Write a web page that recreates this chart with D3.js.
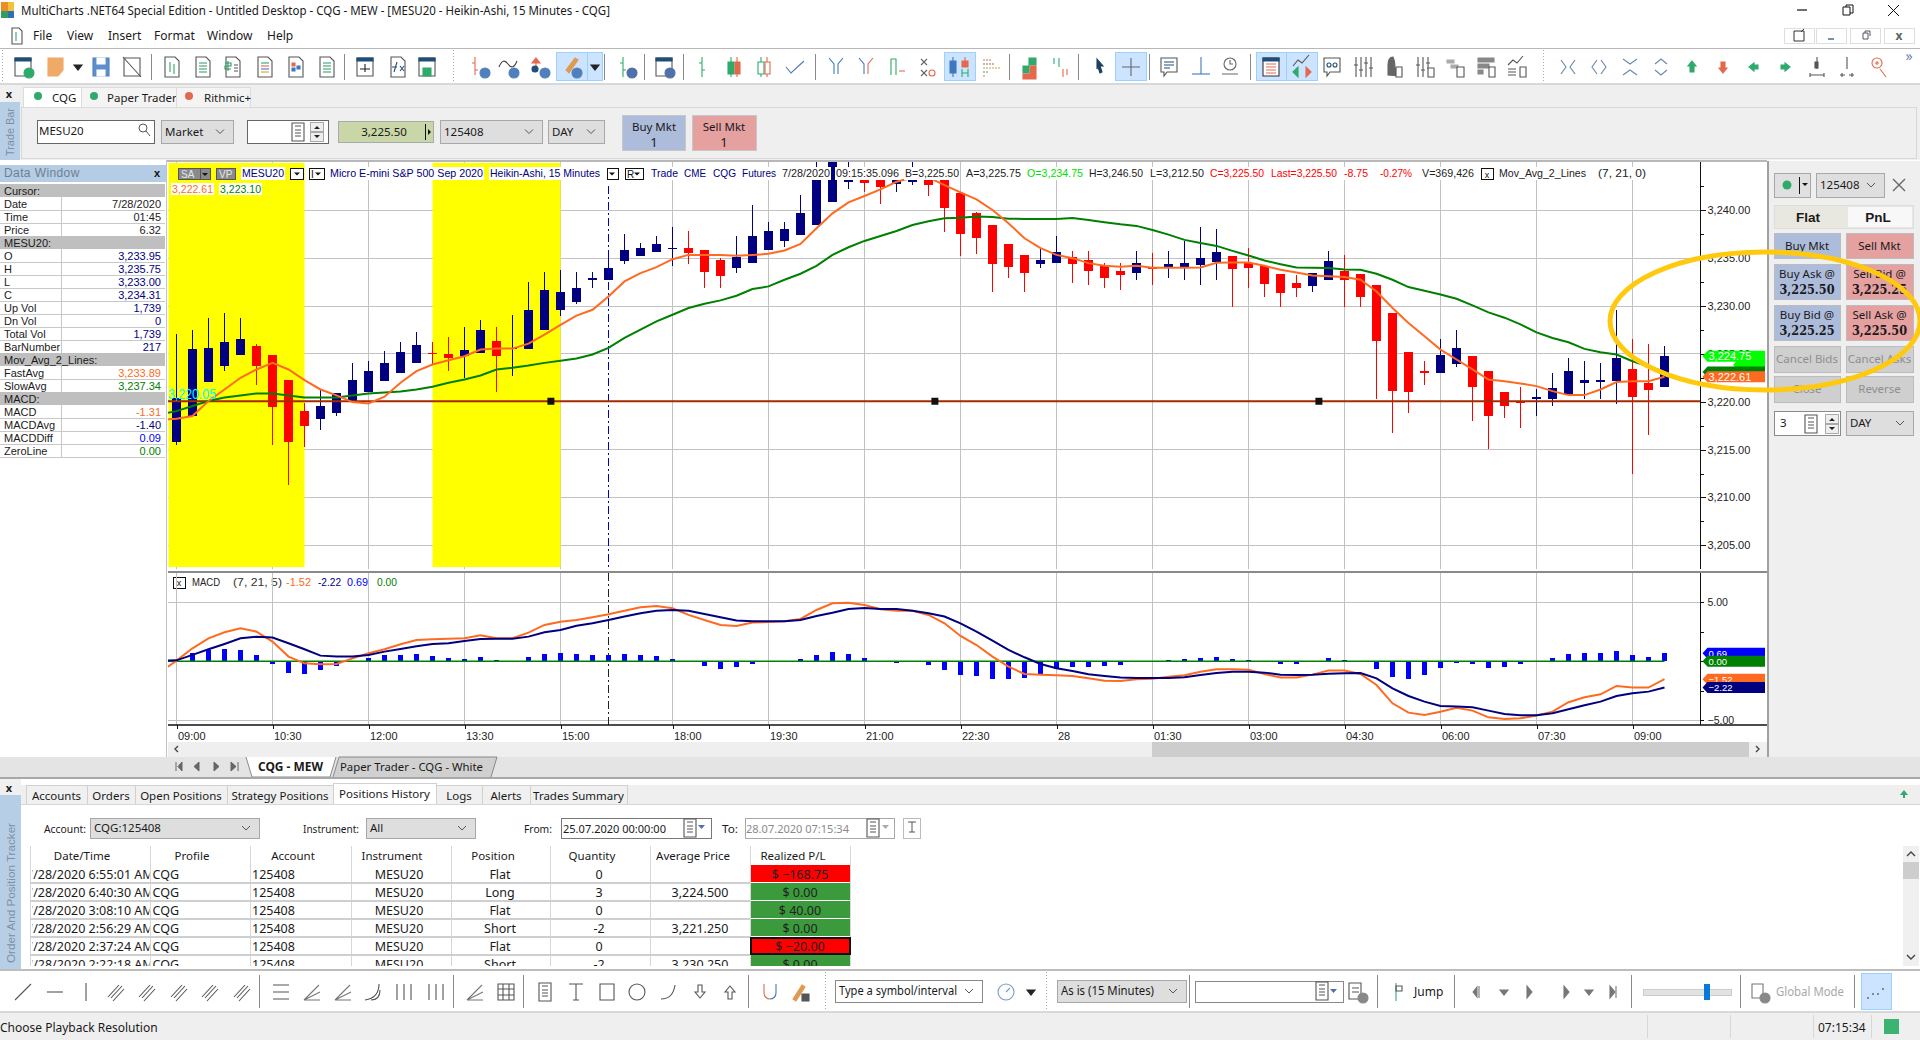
<!DOCTYPE html>
<html>
<head>
<meta charset="utf-8">
<title>MultiCharts MESU20</title>
<script src="https://cdn.jsdelivr.net/npm/d3@7"></script>
<style>
  html, body { margin: 0; padding: 0; background: #fff; overflow: hidden; }
  svg { display: block; font-family: "Noto Sans", sans-serif; font-size: 12px; }
  .chartText { font-family: "Liberation Sans", sans-serif; font-size: 11px; }
</style>
</head>
<body>
<svg id="app" width="1920" height="1040"></svg>
<script>
// Heikin-Ashi bars, one entry per 15 minute bar
const barOpen = [3215.80,3218.50,3222.01,3223.78,3224.93,3225.87,3224.93,3222.22,3218.99,3218.16,3218.78,3219.93,3220.97,3222.12,3223.05,3224.09,3225.14,3225.03,3224.82,3225.14,3226.39,3225.52,3225.55,3227.53,3229.61,3230.45,3232.77,3232.74,3234.72,3235.24,3235.66,3235.97,3236.07,3235.87,3234.82,3233.99,3234.51,3235.87,3236.80,3237.43,3238.47,3240.86,3242.98,3243.16,3243.16,3242.74,3243.05,3243.16,3243.16,3241.80,3239.72,3238.47,3236.49,3235.34,3234.41,3234.51,3235.14,3234.82,3234.20,3233.68,3233.47,3234.10,3233.99,3233.99,3234.30,3234.61,3235.24,3234.51,3234.20,3233.37,3232.43,3232.12,3232.74,3233.68,3233.37,3232.22,3229.30,3225.24,3223.16,3222.95,3223.89,3224.82,3223.26,3220.97,3220.03,3220.24,3220.24,3220.76,3221.91,3222.01,3222.12,3223.37,3221.91,3221.49]
const barHigh = [3227.11,3227.53,3228.78,3229.30,3228.78,3226.07,3224.93,3222.22,3219.82,3221.28,3220.87,3224.09,3224.30,3225.34,3226.28,3227.32,3226.28,3226.80,3227.84,3228.57,3227.84,3229.09,3232.53,3233.57,3233.78,3233.57,3233.57,3235.03,3237.53,3236.59,3237.32,3238.26,3237.84,3235.87,3235.03,3237.32,3240.55,3238.78,3238.78,3241.59,3245.80,3246.50,3245.20,3243.68,3243.68,3243.68,3245.20,3243.50,3243.16,3241.80,3239.82,3238.47,3236.49,3235.34,3235.97,3237.32,3235.76,3235.76,3234.51,3234.51,3235.76,3235.55,3235.76,3236.80,3238.26,3238.05,3235.24,3236.07,3234.20,3233.37,3233.26,3233.47,3235.76,3235.34,3233.37,3232.22,3229.30,3225.24,3224.30,3226.59,3227.53,3224.82,3223.26,3220.97,3221.59,3221.28,3223.05,3224.61,3224.30,3224.09,3229.61,3226.59,3226.07,3225.87]
const barLow = [3215.45,3218.43,3222.01,3223.26,3224.93,3221.70,3215.45,3211.28,3215.24,3217.01,3218.47,3219.82,3220.97,3222.12,3223.05,3224.09,3223.89,3223.26,3222.43,3225.14,3220.97,3222.74,3225.55,3227.53,3228.99,3230.24,3231.91,3232.74,3234.41,3235.24,3235.66,3234.20,3234.41,3231.91,3231.91,3233.47,3234.51,3235.87,3236.18,3237.43,3238.47,3240.86,3242.22,3241.91,3240.66,3241.91,3242.64,3241.49,3237.74,3235.24,3235.45,3231.49,3232.95,3231.49,3233.99,3234.51,3232.43,3232.22,3231.91,3231.70,3232.74,3232.22,3232.95,3232.74,3232.22,3232.74,3229.93,3231.91,3230.97,3229.93,3230.97,3231.49,3232.74,3229.93,3229.93,3220.24,3216.70,3218.78,3221.70,3222.95,3223.68,3217.95,3215.03,3218.26,3217.22,3218.47,3219.51,3220.76,3220.24,3220.24,3219.72,3212.50,3216.49,3221.49]
const barClose = [3220.41,3225.55,3225.66,3226.28,3226.59,3223.78,3219.41,3215.76,3217.43,3219.51,3220.87,3222.32,3223.26,3224.09,3225.24,3225.97,3224.96,3224.61,3225.45,3227.53,3224.82,3225.62,3229.61,3231.70,3231.49,3231.91,3232.95,3233.99,3235.87,3236.07,3236.49,3236.07,3235.55,3233.57,3233.16,3235.14,3237.32,3237.84,3238.05,3239.72,3243.16,3245.60,3243.16,3242.84,3242.43,3243.16,3243.16,3242.64,3240.24,3237.53,3237.12,3234.41,3234.10,3233.47,3234.82,3235.66,3234.41,3233.68,3232.95,3233.26,3234.51,3233.89,3234.41,3234.51,3235.03,3235.66,3233.89,3233.99,3232.32,3231.39,3231.91,3233.47,3234.72,3232.74,3230.97,3226.39,3221.07,3220.97,3223.02,3224.93,3225.66,3221.59,3218.47,3219.51,3219.82,3220.45,3221.39,3223.16,3222.32,3222.22,3224.61,3220.45,3221.18,3224.82]

// moving averages and MACD start one bar left of the window, hence the first extra value
const fastAvg = [3218.10,3218.23,3218.50,3220.07,3221.28,3222.50,3223.37,3224.06,3223.37,3222.25,3221.28,3220.66,3219.96,3219.82,3220.52,3221.98,3223.19,3223.89,3224.34,3224.75,3225.45,3225.55,3225.55,3226.07,3227.01,3228.02,3228.99,3229.61,3231.00,3232.57,3233.43,3234.06,3234.89,3235.34,3235.34,3235.34,3235.24,3235.34,3235.45,3235.80,3236.49,3238.12,3239.68,3240.83,3241.49,3242.18,3242.98,3243.43,3243.43,3242.64,3241.87,3241.14,3240.03,3238.64,3237.08,3236.04,3235.34,3235.00,3234.48,3234.20,3234.09,3234.20,3233.99,3233.99,3233.99,3234.02,3234.51,3234.55,3234.55,3234.20,3233.78,3233.50,3233.19,3233.12,3233.02,3232.74,3231.52,3229.79,3228.23,3226.84,3225.45,3224.41,3223.37,3222.32,3222.15,3221.91,3221.63,3221.11,3220.69,3220.69,3221.28,3222.05,3222.15,3222.15,3222.61]
const slowAvg = [3218.70,3219.02,3219.55,3220.07,3220.45,3220.66,3220.87,3220.87,3220.66,3220.45,3220.45,3220.45,3220.66,3220.87,3220.97,3221.07,3221.28,3221.56,3221.98,3222.32,3222.74,3223.37,3223.54,3223.78,3224.06,3224.27,3224.51,3224.93,3225.62,3226.66,3227.53,3228.40,3229.09,3229.79,3230.24,3230.59,3231.07,3231.77,3232.05,3232.74,3233.37,3234.20,3235.34,3236.14,3236.80,3237.32,3237.84,3238.47,3238.85,3239.16,3239.23,3239.34,3239.30,3239.13,3239.09,3239.09,3239.09,3239.20,3238.99,3238.75,3238.54,3238.37,3237.95,3237.46,3236.91,3236.59,3236.28,3235.76,3235.27,3234.75,3234.37,3234.02,3233.99,3233.96,3233.82,3233.78,3233.37,3232.74,3231.98,3231.59,3231.21,3230.76,3230.07,3229.34,3228.78,3228.09,3227.25,3226.66,3226.21,3225.52,3225.17,3224.93,3224.23,3223.71,3223.10]
const macdLine = [-0.90,0.06,1.10,1.95,2.46,2.80,2.51,1.67,0.40,-0.17,-0.25,-0.23,0.25,0.68,1.02,1.44,1.81,1.86,1.92,1.95,2.20,1.95,1.95,2.43,3.08,3.36,3.50,3.73,3.98,4.29,4.58,4.69,4.49,3.93,3.50,3.08,2.99,3.28,3.33,3.39,3.59,4.35,4.92,4.97,4.77,4.41,4.29,4.29,3.93,3.22,2.15,1.38,0.40,-0.45,-1.07,-1.13,-1.19,-1.24,-1.44,-1.64,-1.67,-1.53,-1.47,-1.30,-1.19,-0.88,-0.68,-0.68,-0.71,-1.07,-1.38,-1.38,-1.13,-0.79,-0.79,-1.07,-2.01,-3.56,-4.35,-4.55,-4.27,-3.93,-4.18,-4.75,-4.89,-4.83,-4.60,-4.27,-3.47,-3.05,-2.80,-2.09,-2.23,-2.23,-1.52]
const macdAvg = [0.05,0.08,0.54,1.02,1.47,1.95,2.09,2.01,1.53,1.02,0.48,0.40,0.40,0.54,0.82,1.05,1.27,1.47,1.53,1.72,1.89,1.92,1.92,2.09,2.46,2.66,3.02,3.22,3.50,3.79,4.07,4.29,4.35,4.29,4.01,3.73,3.45,3.39,3.39,3.39,3.50,3.84,4.12,4.44,4.52,4.44,4.44,4.29,4.07,3.79,3.22,2.51,1.75,0.96,0.34,-0.23,-0.59,-0.82,-1.10,-1.24,-1.38,-1.41,-1.41,-1.41,-1.36,-1.16,-0.99,-0.88,-0.88,-0.96,-1.13,-1.16,-1.13,-1.05,-1.02,-0.99,-1.44,-2.29,-2.94,-3.42,-3.79,-3.84,-3.90,-4.18,-4.46,-4.58,-4.58,-4.41,-4.07,-3.73,-3.42,-2.94,-2.71,-2.57,-2.22]
const macdDiff = [0.00,0.68,0.96,1.05,0.96,0.54,-0.23,-0.99,-1.07,-0.73,-0.40,0.06,0.31,0.54,0.54,0.62,0.45,0.28,0.20,0.37,0.11,0.00,0.37,0.62,0.71,0.62,0.54,0.54,0.62,0.54,0.45,0.20,0.00,-0.40,-0.65,-0.48,-0.23,0.00,0.00,0.20,0.54,0.79,0.62,0.28,0.00,-0.11,-0.08,-0.31,-0.73,-1.16,-1.24,-1.50,-1.50,-1.41,-1.07,-0.65,-0.48,-0.48,-0.40,-0.31,0.00,0.00,0.11,0.20,0.28,0.37,0.20,0.11,0.00,-0.23,-0.23,0.00,0.28,0.11,0.00,-0.65,-1.33,-1.50,-1.16,-0.56,-0.11,-0.23,-0.56,-0.48,-0.23,0.00,0.28,0.62,0.71,0.71,0.88,0.54,0.37,0.69]

const timeTickBars = [0,6,12,18,24,31,37,43,49,55,61,67,73,79,85,91]
const timeTickLabels = ["09:00","10:30","12:00","13:30","15:00","18:00","19:30","21:00","22:30","28","01:30","03:00","04:30","06:00","07:30","09:00"]
const priceTicks = d3.range(3205, 3242.6, 2.5)
const macdTicks = [-5,-2.5,0,2.5,5]
const priceGridTicks = [3205,3210,3215,3220,3225,3230,3235,3240]
const macdGridTicks = [-5,5]
const shadedBarRanges = [[-0.5,8],[16,24]]
const sessionBreakBar = 27
const trendLevel = 3220.05
const trendAnchorBars = [23.4,47.4,71.4]

const dataWindowRows = [
  ["Cursor:"],["Date","7/28/2020","#222"],["Time","01:45","#222"],["Price","6.32","#222"],
  ["MESU20:"],["O","3,233.95","#000080"],["H","3,235.75","#000080"],["L","3,233.00","#000080"],["C","3,234.31","#000080"],
  ["Up Vol","1,739","#000080"],["Dn Vol","0","#000080"],["Total Vol","1,739","#000080"],["BarNumber","217","#000080"],
  ["Mov_Avg_2_Lines:"],["FastAvg","3,233.89","#ff6a21"],["SlowAvg","3,237.34","#008000"],
  ["MACD:"],["MACD","-1.31","#ff6a21"],["MACDAvg","-1.40","#000080"],["MACDDiff","0.09","#0000ff"],["ZeroLine","0.00","#008000"]
]
const historyHeaders = ["Date/Time","Profile","Account","Instrument","Position","Quantity","Average Price","Realized P/L"]
const historyTimes = ["7/28/2020 6:55:01 AM","7/28/2020 6:40:30 AM","7/28/2020 3:08:10 AM","7/28/2020 2:56:29 AM","7/28/2020 2:37:24 AM","7/28/2020 2:22:18 AM"]
const historyPositions = ["Flat","Long","Flat","Short","Flat","Short"]
const historyQuantities = ["0","3","0","-2","0","-2"]
const historyPrices = ["","3,224.500","","3,221.250","","3,230.250"]
const historyPnl = [-168.75,0,40,0,-20,0]

const CANDLE_UP = "#000080"
const CANDLE_DOWN = "#ff0000"
const FAST_COLOR = "#ff6a21"
const SLOW_COLOR = "#008000"
const GRID_COLOR = "#c2c2c2"
const PANEL_BG = "#efefef"

const svg = d3.select("#app")
svg.append("rect").attr("width", 1920).attr("height", 1040).attr("fill", "#fff")

const defs = svg.append("defs")
const addClip = (id, x, y, w, h) => defs.append("clipPath").attr("id", id)
  .append("rect").attr("x", x).attr("y", y).attr("width", w).attr("height", h)

// ---- small drawing helpers for the application chrome
function txt (parent, x, y, text, opts = {}) {
  const t = parent.append("text")
    .attr("x", x).attr("y", y)
    .attr("fill", opts.fill || "#1a1a1a")
    .attr("text-anchor", opts.anchor || "start")
    .attr("font-size", opts.size || 12)
    .attr("font-weight", opts.weight || "normal")
    .text(text)
  if (opts.family) { t.attr("font-family", opts.family) }
  if (opts.length) { t.attr("textLength", opts.length).attr("lengthAdjust", "spacingAndGlyphs") }
  if (opts.spacing) { t.attr("letter-spacing", opts.spacing) }
  return t
}

function box (parent, x, y, w, h, fill, stroke) {
  return parent.append("rect")
    .attr("x", x).attr("y", y).attr("width", w).attr("height", h)
    .attr("fill", fill || "none")
    .attr("stroke", stroke || "none")
    .attr("shape-rendering", "crispEdges")
}

function vline (parent, x, y1, y2, color = "#8a8a8a", dash) {
  const l = parent.append("line").attr("x1", x).attr("x2", x).attr("y1", y1).attr("y2", y2)
    .attr("stroke", color).attr("shape-rendering", "crispEdges")
  if (dash) { l.attr("stroke-dasharray", dash) }
  return l
}

function hline (parent, x1, x2, y, color = "#c8c8c8", width = 1) {
  return parent.append("line").attr("x1", x1).attr("x2", x2).attr("y1", y).attr("y2", y)
    .attr("stroke", color).attr("stroke-width", width).attr("shape-rendering", "crispEdges")
}

function chevron (parent, x, y, color = "#555") {
  parent.append("path").attr("d", `M${x - 4},${y - 2}L${x},${y + 2}L${x + 4},${y - 2}`)
    .attr("fill", "none").attr("stroke", color)
}

function combo (parent, x, y, w, h, text, opts = {}) {
  box(parent, x + 0.5, y + 0.5, w, h, opts.fill || "#dedede", opts.stroke || "#a8a8a8")
  txt(parent, x + 4, y + h / 2 + 4, text, {size: opts.size || 12, length: opts.length})
  chevron(parent, x + w - 13, y + h / 2)
}

// toolbar glyphs: each is a list of [path, stroke, fill]
const PAGE = "M-7,-10h10l4,4v16h-14z"
const WIN = "M-8,-9h16v18h-16z"
const PLUS_DOT = "M1,6a5,5 0 1,0 10,0a5,5 0 1,0 -10,0z"
const glyphs = {
  winPlus: [[WIN, "#555", "#fff"], ["M-8,-9h16v3h-16z", "#1f4e79", "#1f4e79"], [PLUS_DOT, "#2eaa6b", "#2eaa6b"]],
  flag: [["M-8,-9h15v12l-5,6h-10z", "#eeaa66", "#eeaa66"]],
  drop: [["M-4,-2h8l-4,5z", "#222", "#222"]],
  save: [["M-8,-9h16v18h-16z", "#4f80bd", "#5f8fca"], ["M-4,-9h8v6h-8zM-4,3h8v6h-8z", "#fff", "#fff"]],
  noPage: [[WIN, "#555", "#fff"], ["M-9,-10L9,10", "#555", "none"]],
  pageBar: [[PAGE, "#555", "#fff"], ["M-2,-5v10M2,-3v10", "#2eaa6b", "none"]],
  pageGrid: [[PAGE, "#555", "#fff"], ["M-4,-4h8M-4,-1h8M-4,2h8M-4,5h8", "#2a9a60", "none"]],
  pageDollar: [[PAGE, "#555", "#fff"], ["M-8,-4h6v3h-6v3h6M-5,-6v10", "#2a9a60", "none"], ["M1,-2h4M1,1h4M1,4h4", "#555", "none"]],
  pageList: [[PAGE, "#555", "#fff"], ["M-4,-4h8", "#2eaa6b", "none"], ["M-4,-1h8", "#e4694c", "none"], ["M-4,2h8", "#3f78c0", "none"], ["M-4,5h8", "#e0a030", "none"]],
  pageColor: [[PAGE, "#555", "#fff"], ["M-4,-4h3v3h-3z", "#e4694c", "#e4694c"], ["M1,-1h3v3h-3z", "#3f78c0", "#3f78c0"], ["M-4,1h3v3h-3z", "#3f78c0", "#3f78c0"]],
  winLine: [[WIN, "#555", "#fff"], ["M-8,-9h16v3h-16z", "#1f4e79", "#1f4e79"], ["M-5,2h10M0,-3v8", "#222", "none"]],
  pageFx: [[PAGE, "#555", "#fff"], ["M-4,5l3,-10M-6,0h5M2,-1l4,5M6,-1l-4,5", "#1f4e79", "none"]],
  winPuzzle: [[WIN, "#555", "#fff"], ["M-8,-9h16v3h-16z", "#1f4e79", "#1f4e79"], ["M-4,1h8v8h-8z", "#2eaa6b", "#2eaa6b"]],
  barPlus: [["M-4,-10v18M-7,-4h3M-4,3h3", "#e4694c", "none"], [PLUS_DOT, "#4f80bd", "#4f80bd"]],
  wavePlus: [["M-9,0q4,-10 9,-3t9,-3", "#444", "none"], [PLUS_DOT, "#4f80bd", "#4f80bd"]],
  arrowPlus: [["M-3,-9l4,5h-8zM-3,-4v8", "#e4694c", "#e4694c"], ["M-7,2a3,3 0 1,0 6,0a3,3 0 1,0 -6,0z", "#1f4e79", "#1f4e79"], [PLUS_DOT, "#4f80bd", "#4f80bd"]],
  pencilPlus: [["M-5,3L4,-9l3,2L-2,6z", "#e09a50", "#e09a50"], [PLUS_DOT, "#4f80bd", "#4f80bd"]],
  barGear: [["M-3,-10v20M-6,-4h3M-3,3h3", "#2eaa6b", "none"], [PLUS_DOT, "#4f70a8", "#4f70a8"]],
  winGear: [[WIN, "#555", "#fff"], ["M-8,-9h16v3h-16z", "#1f4e79", "#1f4e79"], [PLUS_DOT, "#4f70a8", "#4f70a8"]],
  barsG: [["M0,-10v20M-3,-4h3M0,3h3", "#2eaa6b", "none"]],
  candle: [["M-3,-10v20", "#2eaa6b", "none"], ["M-6,-5h6v12h-6z", "#2eaa6b", "#2eaa6b"], ["M3,-10v20", "#e4694c", "none"], ["M1,-5h5v12h-5z", "#e4694c", "#e4694c"]],
  hollow: [["M-3,-10v20", "#2eaa6b", "none"], ["M-6,-5h6v12h-6z", "#2eaa6b", "#fff"], ["M3,-10v20", "#e4694c", "none"], ["M1,-5h5v12h-5z", "#e4694c", "#fff"]],
  check: [["M-9,0l5,6l13,-12", "#4f78a8", "none"]],
  lineV: [["M-7,-9l5,6v10M7,-9l-5,6v10", "#3f78c0", "none"]],
  lineVr: [["M-7,-9l5,6v10", "#3f78c0", "none"], ["M7,-9l-5,6v10", "#e4694c", "none"]],
  step: [["M-6,8v-16h5v16", "#2eaa6b", "none"], ["M2,4h6", "#e4694c", "none"]],
  xo: [["M-7,-8l6,6M-1,-8l-6,6", "#666", "none"], ["M1,6a3,3 0 1,0 6,0a3,3 0 1,0 -6,0z", "#e4694c", "none"], ["M-7,3l6,6M-1,3l-6,6", "#666", "none"]],
  candleBlue: [["M0,-10v20M-3,-6h6v12h-6z", "#3f78c0", "#3f78c0"]],
  candleHL: [["M0,-10v9", "#e4694c", "none"], ["M-3,-6h6v6h-6z", "#e4694c", "#e4694c"], ["M-3,2v8M3,2v8M-3,6h6", "#2eaa6b", "none"]],
  dots: [["M-8,-7h2M-5,-7h2M-2,-7h2", "#e4694c", "none"], ["M-8,-3h2M-5,-3h2M-2,-3h2M1,-3h2", "#777", "none"], ["M-8,1h2M-5,1h2M-2,1h2M1,1h2M4,1h2M7,1h2", "#e0a030", "none"], ["M-8,5h2M-5,5h2", "#2eaa6b", "none"], ["M-8,9h2", "#e4694c", "none"]],
  blocks: [["M0,-9h7v7h-7zM-6,-1h6v7h-6z", "#2eaa6b", "#2eaa6b"], ["M1,-1h6v7h-6zM-6,7h6v5h-6zM1,7h6v5h-6z", "#e4694c", "#e4694c"]],
  upDown: [["M-5,-3v-6M0,0v-9", "#2eaa6b", "none"], ["M4,2v8M8,2v6", "#e4694c", "none"]],
  pointer: [["M-3,-8l6,7h-3l2,6l-2,1l-2,-6l-1,2z", "#1f3f60", "#1f3f60"]],
  cross: [["M-9,0h18M0,-9v18", "#666", "none"]],
  note: [["M-8,-9h16v14h-10l-3,4v-4h-3z", "#555", "#fff"], ["M-5,-5h10M-5,-2h10M-5,1h6", "#1f4e79", "none"]],
  hCursor: [["M-9,7h18", "#3f78c0", "none"], ["M0,-10v17", "#3f78c0", "none"]],
  clock: [["M-6,-3a6,6 0 1,0 12,0a6,6 0 1,0 -12,0zM0,-7v4h3M-8,7h16", "#666", "none"]],
  listWin: [[WIN, "#333", "#fff"], ["M-8,-9h16v3h-16z", "#1f4e79", "#1f4e79"], ["M-5,-3h10M-5,0h10M-5,3h10M-5,6h10", "#e4694c", "none"]],
  tradeArrows: [["M-9,-1l5,-6l4,3l7,-8", "#555", "none"], ["M-9,5l5,-5v10z", "#2eaa6b", "#2eaa6b"], ["M9,5l-5,-5v10z", "#e4694c", "#e4694c"]],
  chain: [["M-8,-9h16v14h-10l-3,4v-4h-3z", "#555", "#fff"], ["M-5,-2a2,2 0 1,0 4,0a2,2 0 1,0 -4,0zM1,-2a2,2 0 1,0 4,0a2,2 0 1,0 -4,0z", "#1f4e79", "none"]],
  ticks: [["M-7,-10v20M-2,-10v20M3,-10v20M8,-10v20M-9,-2h4M-4,3h4M1,-4h4M6,1h4", "#555", "none"]],
  horse: [["M-5,8v-10q0,-8 5,-8q2,4 2,12l5,-1v8z", "#666", "#666"], ["M3,0h6v10h-6z", "#555", "#fff"]],
  tickDoc: [["M-7,-10v20M-2,-10v20M3,-10v12M-9,-2h4M-4,3h4M1,-4h4", "#555", "none"], ["M3,1h6v9h-6z", "#555", "#fff"]],
  greyDoc: [["M-9,-7h7v3h-7zM-5,-2h7v3h-7z", "#aaa", "#aaa"], ["M1,0h7v10h-7z", "#555", "#fff"]],
  gridDoc: [["M-8,-9h5v4h-5zM-2,-9h5v4h-5zM4,-9h4v4h-4zM-8,-3h5v4h-5zM-2,-3h5v4h-5zM-8,3h5v4h-5z", "#888", "#888"], ["M3,0h6v10h-6z", "#555", "#fff"]],
  lineDoc: [["M-9,-2l5,-5l4,3l6,-7", "#555", "none"], ["M-9,2h8M-9,5h8M-9,8h8", "#555", "none"], ["M3,0h6v10h-6z", "#555", "#fff"]],
  squeeze: [["M-7,-7l5,7l-5,7M7,-7l-5,7l5,7", "#6c86ad", "none"]],
  spread: [["M-2,-7l-5,7l5,7M2,-7l5,7l-5,7", "#6c86ad", "none"]],
  vSqueeze: [["M-7,-8l7,5l7,-5M-7,8l7,-5l7,5", "#6c86ad", "none"]],
  vSpread: [["M-6,-3l6,-5l6,5M-6,3l6,5l6,-5", "#6c86ad", "none"]],
  up: [["M0,-6l4,5h-2v6h-4v-6h-2z", "#2eaa6b", "#2eaa6b"]],
  down: [["M0,6l4,-5h-2v-6h-4v6h-2z", "#e4694c", "#e4694c"]],
  left: [["M-5,0l5,-4v2h4v4h-4v2z", "#2eaa6b", "#2eaa6b"]],
  right: [["M5,0l-5,-4v2h-4v4h4v2z", "#2eaa6b", "#2eaa6b"]],
  barLeft: [["M1,-10v12", "#555", "none"], ["M-1,-5h3v6h-3z", "#555", "#555"], ["M-6,8h14M-6,6v4M8,6v4", "#555", "none"]],
  barRight: [["M1,-10v12", "#555", "none"], ["M-6,8h5M3,8h5M-4,6v4M6,6v4", "#555", "none"]],
  zoomIn: [["M-7,-4a5,5 0 1,0 10,0a5,5 0 1,0 -10,0zM1,2l6,8", "#e4694c", "none"], ["M-4,-4h4M-2,-6v4", "#e4694c", "none"]],
  seg: [["M-8,8L8,-8", "#555", "none"]],
  hseg: [["M-8,0h16", "#555", "none"]],
  vseg: [["M0,-9v18", "#555", "none"]],
  channel: [["M-9,5l11,-12M-4,9l11,-12", "#555", "none"], ["M-6,6l11,-12", "#555", "none"]],
  fan: [["M-8,8l15,-15M-8,8l16,-8M-8,8l16,0", "#777", "none"]],
  lines: [["M-8,-7h16M-8,0h16M-8,7h16", "#555", "none"]],
  arcs: [["M-8,8q14,-2 14,-16M-2,8q9,0 9,-10", "#555", "none"]],
  bars3: [["M-7,-8v16M0,-8v16M7,-8v16", "#555", "none"]],
  grid: [["M-8,-8h16v16h-16zM-8,-3h16M-8,3h16M-3,-8v16M3,-8v16", "#555", "none"]],
  calc: [["M-6,-9h12v18h-12z", "#555", "#fff"], ["M-3,-6h6M-3,-2h6M-3,1h6M-3,4h6", "#555", "none"]],
  textT: [["M-7,-8h14M0,-8v16M-3,8h6", "#555", "none"]],
  rect: [["M-7,-8h14v16h-14z", "#555", "none"]],
  circle: [["M-8,0a8,8 0 1,0 16,0a8,8 0 1,0 -16,0z", "#555", "none"]],
  curve: [["M-8,7q12,0 14,-14", "#555", "none"]],
  arrowDown: [["M-2,-7h4v7h3l-5,6l-5,-6h3z", "#555", "none"]],
  arrowUp: [["M-2,7h4v-7h3l-5,-6l-5,6h3z", "#555", "none"]],
  magnet: [["M-6,-8v9a6,6 0 0,0 6,6", "#e4694c", "none"], ["M6,-8v9a6,6 0 0,1 -6,6", "#3f78c0", "none"]],
  lock: [["M-7,7l9,-14l3,2l-9,14z", "#e09a50", "#e09a50"], ["M2,2h7v7h-7z", "#555", "#555"]],
  clockDial: [["M-8,0a8,8 0 1,0 16,0a8,8 0 1,0 -16,0zM0,0l4,-4", "#7a9cc6", "none"]],
  playL: [["M2,-6v12M-4,0l4,-5v10z", "#777", "#777"]],
  playR: [["M-2,-6l5,6l-5,6z", "#777", "#777"]],
  endR: [["M-3,-6l5,6l-5,6z", "#777", "#777"], ["M3,-6v12", "#777", "none"]],
  greyDrop: [["M-4,-2h8l-4,5z", "#777", "#777"]],
  histDoc: [["M-8,-9h12v16h-12z", "#555", "#fff"], ["M-5,-4h7M-5,0h7", "#555", "none"], [PLUS_DOT, "#888", "#888"]],
  jump: [["M-4,-9v18", "#2eaa6b", "none"], ["M-4,-6h6v5h-6z", "#555", "none"]],
  copies: [["M-7,-8h11v14h-11z", "#777", "#fff"], [PLUS_DOT, "#888", "#888"]],
  dotLine: [["M-9,6h2M-4,2h2M1,2h2M6,-3h2", "#234", "none"]],
  pageSmall: [["M-5,-8h7l3,3v13h-10z", "#555", "#fff"], ["M-1,-4v9", "#2eaa6b", "none"]]
}

function icon (parent, x, y, kind) {
  const g = parent.append("g").attr("transform", `translate(${x},${y})`)
  glyphs[kind].forEach(([d, stroke, fill]) => {
    g.append("path").attr("d", d).attr("stroke", stroke).attr("fill", fill).attr("stroke-width", 1.1)
  })
}

// ---- title bar, menu, main toolbar
const header = svg.append("g")
box(header, 1, 2, 7, 9, "#f08a24"); box(header, 8, 2, 6, 9, "#f3c13a"); box(header, 1, 11, 7, 7, "#2f9e5f"); box(header, 8, 11, 6, 7, "#2f6fb5")
txt(header, 21, 15, "MultiCharts .NET64 Special Edition - Untitled Desktop - CQG - MEW - [MESU20 - Heikin-Ashi, 15 Minutes - CQG]", {length: 589})
header.append("path").attr("d", "M1797,10h10").attr("stroke", "#111").attr("stroke-width", 1.2)
header.append("path").attr("d", "M1843,7h7v8h-7zM1846,7v-2h7v8h-3").attr("stroke", "#111").attr("fill", "none")
header.append("path").attr("d", "M1888,5l11,11M1899,5l-11,11").attr("stroke", "#111").attr("fill", "none")

icon(header, 17, 36, "pageSmall")
const menuItems = [["File", 33], ["View", 67], ["Insert", 108], ["Format", 154], ["Window", 207], ["Help", 267]]
menuItems.forEach(([label, x]) => txt(header, x, 40, label))
const windowButtons = [1784, 1816, 1850, 1884]
windowButtons.forEach(x => box(header, x + 0.5, 28.5, 30, 15, "#fff", "#dedede"))
header.append("path").attr("d", "M1794,31h10v10h-10zM1801,32l3,-3").attr("stroke", "#333").attr("fill", "none")
box(header, 1828, 38, 6, 2, "#7a8ea8")
header.append("path").attr("d", "M1863,33h5v6h-5zM1865,33v-2h5v5").attr("stroke", "#556").attr("fill", "none")
txt(header, 1899, 40, "x", {anchor: "middle", size: 12, fill: "#566", weight: "bold"})

hline(header, 0, 1920, 48.5, "#b8b8b8")
hline(header, 0, 1920, 84, "#d8d8d8", 2)
vline(header, 2, 50, 83, "#aaa", "1,2")
vline(header, 453, 50, 83, "#aaa", "1,2")
vline(header, 1543, 50, 83, "#aaa", "1,2")
const toolHighlights = [[556, 31], [587, 15], [944, 31], [1115, 31], [1256, 30], [1286, 31]]
toolHighlights.forEach(([x, w]) => box(header, x + 0.5, 52.5, w, 28, "#cce4ff", "#99d1ff"))
const toolSeparators = [151, 344, 604, 644, 683, 815, 1009, 1078, 1149, 1250]
toolSeparators.forEach(x => vline(header, x + 0.5, 54, 80))
const mainTools = [
  [23, "winPlus"], [56, "flag"], [78, "drop"], [101, "save"], [132, "noPage"], [172, "pageBar"], [203, "pageGrid"], [233, "pageDollar"],
  [265, "pageList"], [296, "pageColor"], [327, "pageGrid"], [365, "winLine"], [398, "pageFx"], [427, "winPuzzle"], [479, "barPlus"], [508, "wavePlus"],
  [539, "arrowPlus"], [571, "pencilPlus"], [595, "drop"], [626, "barGear"], [664, "winGear"], [702, "barsG"], [734, "candle"], [764, "hollow"],
  [795, "check"], [836, "lineV"], [866, "lineVr"], [897, "step"], [928, "xo"], [953, "candleBlue"], [965, "candleHL"], [991, "dots"], [1029, "blocks"],
  [1059, "upDown"], [1100, "pointer"], [1131, "cross"], [1169, "note"], [1201, "hCursor"], [1230, "clock"], [1271, "listWin"], [1302, "tradeArrows"],
  [1332, "chain"], [1363, "ticks"], [1393, "horse"], [1425, "tickDoc"], [1456, "greyDoc"], [1486, "gridDoc"], [1517, "lineDoc"], [1568, "squeeze"],
  [1599, "spread"], [1630, "vSqueeze"], [1661, "vSpread"], [1692, "up"], [1723, "down"], [1754, "left"], [1785, "right"], [1816, "barLeft"],
  [1846, "barRight"], [1879, "zoomIn"]
]
mainTools.forEach(([x, kind]) => icon(header, x, 67, kind))
txt(header, 1909, 61, "»", {anchor: "middle", size: 14, fill: "#6c86ad"})

// ---- trade bar
const tradeBar = svg.append("g")
box(tradeBar, 0, 85, 1920, 75, PANEL_BG)
box(tradeBar, 0, 85, 20, 75, "#b7cfe6")
box(tradeBar, 0, 85, 20, 17, "#f0f0f0")
txt(tradeBar, 9, 98, "x", {anchor: "middle", weight: "bold", size: 11})
txt(tradeBar, 14, 156, "Trade Bar", {fill: "#7f8f9f", size: 11, family: "Liberation Sans", length: 48}).attr("transform", "rotate(-90 14 156)")
box(tradeBar, 21.5, 107.5, 1895, 51, PANEL_BG, "#d8d8d8")
const tradeTabs = [[23, 58, "CQG", "#2eaa6b", 52], [81, 95, "Paper Trader", "#2eaa6b", 107], [176, 74, "Rithmic+", "#e4694c", 204]]
tradeTabs.forEach(([x, w, label, dot, tx], i) => {
  box(tradeBar, x + 0.5, 87.5, w, 20, i === 0 ? "#fff" : "#f4f4f4", "#dcdcdc")
  tradeBar.append("circle").attr("cx", x + (i === 0 ? 15 : 13)).attr("cy", 96).attr("r", 4).attr("fill", dot)
  txt(tradeBar, tx, 102, label, {size: 11.5})
})
box(tradeBar, 37.5, 120.5, 117, 23, "#fff", "#666")
txt(tradeBar, 39, 135, "MESU20", {size: 11.5})
tradeBar.append("path").attr("d", "M139,128a4,4 0 1,0 8,0a4,4 0 1,0 -8,0zM146,131l4,5").attr("fill", "none").attr("stroke", "#555")
combo(tradeBar, 161, 120, 72, 23, "Market", {size: 11.5})
box(tradeBar, 247.5, 120.5, 81, 23, "#fff", "#666")
icon(tradeBar, 298, 132, "calc")
box(tradeBar, 310.5, 122.5, 13, 9, "#eee", "#aaa"); box(tradeBar, 310.5, 132.5, 13, 9, "#eee", "#aaa")
tradeBar.append("path").attr("d", "M314,129l3,-3l3,3zM314,135l3,3l3,-3z").attr("fill", "#222")
box(tradeBar, 338.5, 121.5, 95, 21, "#c9d6a7", "#aaa")
txt(tradeBar, 384, 136, "3,225.50", {anchor: "middle", size: 11.5})
vline(tradeBar, 425.5, 124, 140, "#111")
tradeBar.append("path").attr("d", "M428,129l3,3l-3,3z").attr("fill", "#111")
combo(tradeBar, 440, 120, 102, 23, "125408", {size: 11.5})
combo(tradeBar, 548, 120, 56, 23, "DAY", {size: 11.5})
box(tradeBar, 622.5, 115.5, 63, 35, "#aebcdb", "#c8c8c8")
txt(tradeBar, 654, 131, "Buy Mkt", {anchor: "middle", size: 11.5})
txt(tradeBar, 654, 147, "1", {anchor: "middle", size: 13})
box(tradeBar, 692.5, 115.5, 64, 35, "#e5a0a0", "#c8c8c8")
txt(tradeBar, 724, 131, "Sell Mkt", {anchor: "middle", size: 11.5})
txt(tradeBar, 724, 147, "1", {anchor: "middle", size: 13})

// ---- data window
const dataWin = svg.append("g").attr("class", "chartText")
box(dataWin, 0, 160, 167, 616, "#fff")
box(dataWin, 0, 165, 166, 17, "#b4cce4")
txt(dataWin, 4, 177, "Data Window", {size: 12, fill: "#6f7f8f", spacing: 0.4})
txt(dataWin, 157, 177, "x", {anchor: "middle", weight: "bold", size: 11, fill: "#111"})
dataWindowRows.forEach((row, i) => {
  const y = 184 + i * 13
  if (row.length === 1) {
    box(dataWin, 0, y, 165, 13, "#bfbfbf")
  } else {
    hline(dataWin, 0, 165, y + 13, "#c8c8c8")
    vline(dataWin, 61.5, y, y + 13, "#c8c8c8")
    txt(dataWin, 161, y + 10.5, row[1], {anchor: "end", fill: row[2], size: 11})
  }
  txt(dataWin, 4, y + 10.5, row[0], {size: 11})
})
vline(dataWin, 166.5, 160, 776, "#c4c4c4")

// ---- price chart
const PLOT_LEFT = 168, PLOT_RIGHT = 1700.5, MAIN_TOP = 162, MAIN_BOTTOM = 569, MACD_TOP = 573, MACD_BOTTOM = 725
const x = d3.scaleLinear().domain([0, 93]).range([176.5, 1664.5])
const yPrice = d3.scaleLinear().domain([3205, 3240]).range([545.3, 210.3])
const yMacd = d3.scaleLinear().domain([-5, 5]).range([720.3, 602.3])
addClip("mainClip", PLOT_LEFT, MAIN_TOP, PLOT_RIGHT - PLOT_LEFT, MAIN_BOTTOM - MAIN_TOP)
addClip("macdClip", PLOT_LEFT, MACD_TOP, PLOT_RIGHT - PLOT_LEFT, MACD_BOTTOM - MACD_TOP)

const chart = svg.append("g").attr("class", "chartText")
box(chart, PLOT_LEFT - 1, 160, 1767 - PLOT_LEFT + 1, 584, "#fff")
hline(chart, PLOT_LEFT - 1, 1767, 161, "#b8b8b8", 2)

function grid (group, yScale, yTicks, yTop, yBottom) {
  group.selectAll(null).data(timeTickBars).join("line")
    .attr("x1", d => x(d)).attr("x2", d => x(d)).attr("y1", yTop).attr("y2", yBottom)
    .attr("stroke", GRID_COLOR).attr("shape-rendering", "crispEdges")
  group.selectAll(null).data(yTicks).join("line")
    .attr("x1", PLOT_LEFT).attr("x2", PLOT_RIGHT).attr("y1", d => yScale(d)).attr("y2", d => yScale(d))
    .attr("stroke", GRID_COLOR).attr("shape-rendering", "crispEdges")
}

const main = chart.append("g").attr("clip-path", "url(#mainClip)")
grid(main, yPrice, priceGridTicks, MAIN_TOP, MAIN_BOTTOM)

main.selectAll(".shade").data(shadedBarRanges).join("rect")
  .attr("class", "shade")
  .attr("x", d => x(d[0])).attr("width", d => x(d[1]) - x(d[0]))
  .attr("y", 163).attr("height", 404)
  .attr("fill", "#ffff00")

const bars = barOpen.map((open, i) => ({i, open, high: barHigh[i], low: barLow[i], close: barClose[i]}))
const barColor = d => d.close >= d.open ? CANDLE_UP : CANDLE_DOWN
main.selectAll(".wick").data(bars).join("line")
  .attr("class", "wick")
  .attr("x1", d => x(d.i)).attr("x2", d => x(d.i))
  .attr("y1", d => yPrice(d.high)).attr("y2", d => yPrice(d.low))
  .attr("stroke", barColor).attr("shape-rendering", "crispEdges")
main.selectAll(".body").data(bars).join("rect")
  .attr("class", "body")
  .attr("x", d => x(d.i) - 4.5).attr("width", 9)
  .attr("y", d => yPrice(Math.max(d.open, d.close)))
  .attr("height", d => Math.max(1.5, Math.abs(yPrice(d.open) - yPrice(d.close))))
  .attr("fill", barColor).attr("shape-rendering", "crispEdges")

main.append("line")
  .attr("x1", x(sessionBreakBar)).attr("x2", x(sessionBreakBar)).attr("y1", 186).attr("y2", MAIN_BOTTOM)
  .attr("stroke", "#0000cd").attr("stroke-dasharray", "8,3,2,3").attr("shape-rendering", "crispEdges")

main.append("line")
  .attr("x1", PLOT_LEFT).attr("x2", PLOT_RIGHT).attr("y1", yPrice(trendLevel)).attr("y2", yPrice(trendLevel))
  .attr("stroke", "#a52a00").attr("stroke-width", 2)
main.selectAll(".anchor").data(trendAnchorBars).join("rect")
  .attr("class", "anchor")
  .attr("x", d => x(d) - 3.5).attr("y", yPrice(trendLevel) - 3.5).attr("width", 7).attr("height", 7)
  .attr("fill", "#111")

// series start at bar -1, see note on top of the arrays
const seriesLine = yScale => d3.line().x((d, k) => x(k - 1)).y(d => yScale(d))
const drawSeries = (group, values, yScale, color, width) => group.append("path")
  .attr("d", seriesLine(yScale)(values))
  .attr("fill", "none").attr("stroke", color).attr("stroke-width", width)
drawSeries(main, slowAvg, yPrice, SLOW_COLOR, 2)
drawSeries(main, fastAvg, yPrice, FAST_COLOR, 2)

// legend rows on top of the bars, each label with its own white backing
const legend = chart.append("g")
const legendItems = [
  [242, 284, "MESU20", "#000080"], [330, 483, "Micro E-mini S&P 500 Sep 2020", "#000080"], [490, 600, "Heikin-Ashi, 15 Minutes", "#000080"],
  [651, 678, "Trade", "#000080"], [684, 706, "CME", "#000080"], [713, 736, "CQG", "#000080"], [742, 776, "Futures", "#000080"],
  [782, 830, "7/28/2020", "#222"], [836, 899, "09:15:35.096", "#222"], [905, 959, "B=3,225.50", "#222"], [966, 1021, "A=3,225.75", "#222"],
  [1027, 1083, "O=3,234.75", "#00e000"], [1089, 1143, "H=3,246.50", "#222"], [1150, 1204, "L=3,212.50", "#222"], [1210, 1264, "C=3,225.50", "#ff0000"],
  [1271, 1337, "Last=3,225.50", "#ff0000"], [1344, 1368, "-8.75", "#ff0000"], [1380, 1412, "-0.27%", "#ff0000"], [1422, 1474, "V=369,426", "#222"],
  [1499, 1586, "Mov_Avg_2_Lines", "#222"], [1598, 1646, "(7,  21,  0)", "#222"]
]
legendItems.forEach(([x0, x1, label, color]) => {
  box(legend, x0 - 1, 167, x1 - x0 + 2, 13, "#fff")
  txt(legend, x0, 177, label, {fill: color, size: 11, length: x1 - x0})
})
function smallButton (parent, x0, w, label, y = 168, h = 11) {
  box(parent, x0 + 0.5, y + 0.5, w, h, "#fff", "#111")
  if (label) { txt(parent, x0 + 2, y + h - 1.5, label, {size: 10, fill: "#111"}) }
}
const greyButton = (x0, w, label) => {
  box(legend, x0 + 0.5, 168.5, w, 11, "#8a8a8a", "#555")
  txt(legend, x0 + 3, 177.5, label, {size: 10, fill: "#e8e8e8"})
}
greyButton(178, 22, "SA")
greyButton(200, 10, "")
legend.append("path").attr("d", "M202,173h6l-3,3z").attr("fill", "#111")
greyButton(216, 19, "VP")
const legendDropButtons = [[290, 13, ""], [309, 15, "I"], [607, 11, ""], [625, 18, "R"]]
legendDropButtons.forEach(([x0, w, label]) => {
  smallButton(legend, x0, w, label)
  legend.append("path").attr("d", `M${x0 + w - 9},172.5h6l-3,3z`).attr("fill", "#111")
})
smallButton(legend, 1481, 12, "")
txt(legend, 1487, 177.5, "x", {anchor: "middle", size: 9, fill: "#111"})

const avgLabels = [[172, 213, "3,222.61", FAST_COLOR], [220, 261, "3,223.10", SLOW_COLOR]]
avgLabels.forEach(([x0, x1, label, color]) => {
  box(legend, x0 - 1, 183, x1 - x0 + 2, 12, "#fff")
  txt(legend, x0, 193, label, {fill: color, size: 11, length: x1 - x0})
})
txt(legend, 168, 399, "3,220.05", {fill: "#00ffff", size: 14, length: 48})

const priceAxis = chart.append("g")
  .attr("transform", `translate(${PLOT_RIGHT},0)`)
  .call(d3.axisRight(yPrice).tickValues(priceTicks).tickSize(5).tickPadding(2)
    .tickFormat(d => d % 5 === 0 ? d3.format(",.2f")(d) : ""))
priceAxis.select(".domain").attr("d", `M0,${MAIN_TOP}V${MAIN_BOTTOM}`).attr("stroke", "#111")
priceAxis.selectAll(".tick text").attr("font-size", 11).attr("font-family", "Liberation Sans").attr("fill", "#222")
priceAxis.selectAll(".tick line").attr("stroke", "#111")
  .attr("x2", d => d % 5 === 0 ? 5 : 3).attr("shape-rendering", "crispEdges")

// price flags on the axis
function flag (group, yCenter, color, label, xLeft = 1702.5, textSize = 11) {
  group.append("path")
    .attr("d", `M${xLeft},${yCenter}l5,-5.5H1765V${yCenter + 5.5}H${xLeft + 5}z`)
    .attr("fill", color)
  txt(group, xLeft + 6, yCenter + 4, label, {fill: "#fff", size: textSize})
}
const FLAG_LAST = 3224.75, FLAG_FAST_OLD = 3223.85
const flags = chart.append("g")
flag(flags, yPrice(FLAG_FAST_OLD), "#00ff00", "", 1733)
flag(flags, yPrice(FLAG_LAST), "#00ff00", d3.format(",.2f")(FLAG_LAST))
flag(flags, yPrice(slowAvg[slowAvg.length - 1]), SLOW_COLOR, "")
flag(flags, yPrice(fastAvg[fastAvg.length - 1]), FAST_COLOR, d3.format(",.2f")(fastAvg[fastAvg.length - 1]))

hline(chart, 168, 1767, 571.5, "#8a8a8a", 2)

// ---- MACD panel
const macd = chart.append("g").attr("clip-path", "url(#macdClip)")
grid(macd, yMacd, macdGridTicks, MACD_TOP, MACD_BOTTOM)
macd.append("line")
  .attr("x1", x(sessionBreakBar)).attr("x2", x(sessionBreakBar)).attr("y1", MACD_TOP).attr("y2", MACD_BOTTOM)
  .attr("stroke", "#222").attr("stroke-dasharray", "8,3,2,3").attr("shape-rendering", "crispEdges")
macd.selectAll(".diff").data(macdDiff).join("rect")
  .attr("class", "diff")
  .attr("x", (d, i) => x(i) - 2.5).attr("width", 5)
  .attr("y", d => yMacd(Math.max(d, 0)))
  .attr("height", d => Math.abs(yMacd(d) - yMacd(0)))
  .attr("fill", "#0000ff").attr("shape-rendering", "crispEdges")
macd.append("line")
  .attr("x1", PLOT_LEFT).attr("x2", x(93)).attr("y1", yMacd(0)).attr("y2", yMacd(0))
  .attr("stroke", SLOW_COLOR).attr("stroke-width", 1.5)
drawSeries(macd, macdLine, yMacd, FAST_COLOR, 2)
drawSeries(macd, macdAvg, yMacd, CANDLE_UP, 2)

smallButton(legend, 173, 12, "", 577, 11)
txt(legend, 179, 586, "x", {anchor: "middle", size: 9, fill: "#111"})
const macdLegend = [[192, 220, "MACD", "#222"], [233, 282, "(7,  21,  5)", "#333"], [286, 311, "-1.52", FAST_COLOR], [318, 341, "-2.22", CANDLE_UP], [347, 368, "0.69", "#0000ff"], [377, 397, "0.00", SLOW_COLOR]]
macdLegend.forEach(([x0, x1, label, color]) => txt(legend, x0, 586, label, {fill: color, size: 10.5, length: x1 - x0}))

const macdAxis = chart.append("g")
  .attr("transform", `translate(${PLOT_RIGHT},0)`)
  .call(d3.axisRight(yMacd).tickValues(macdTicks).tickSize(5).tickPadding(2)
    .tickFormat(d => Math.abs(d) === 5 ? d3.format(".2f")(d) : ""))
macdAxis.select(".domain").attr("d", `M0,${MACD_TOP}V${MACD_BOTTOM}`).attr("stroke", "#111")
macdAxis.selectAll(".tick text").attr("font-size", 10.5).attr("font-family", "Liberation Sans").attr("fill", "#222")
macdAxis.selectAll(".tick line").attr("stroke", "#111").attr("x2", 3).attr("shape-rendering", "crispEdges")

const macdFlags = chart.append("g")
const lastDiff = macdDiff[macdDiff.length - 1], lastMacd = macdLine[macdLine.length - 1], lastAvg = macdAvg[macdAvg.length - 1]
flag(macdFlags, yMacd(lastDiff), "#0000ff", d3.format(".2f")(lastDiff), 1702.5, 9.5)
flag(macdFlags, yMacd(0), SLOW_COLOR, "0.00", 1702.5, 9.5)
flag(macdFlags, yMacd(lastMacd), FAST_COLOR, d3.format(".2f")(lastMacd), 1702.5, 9.5)
flag(macdFlags, yMacd(lastAvg), CANDLE_UP, d3.format(".2f")(lastAvg), 1702.5, 9.5)

// ---- time axis
const timeAxis = chart.append("g")
  .attr("transform", `translate(0,${MACD_BOTTOM})`)
  .call(d3.axisBottom(x).tickValues(timeTickBars).tickSize(4)
    .tickFormat((d, i) => timeTickLabels[i]))
timeAxis.select(".domain").attr("d", `M${PLOT_LEFT},0H1767`).attr("stroke", "#111").attr("stroke-width", 1.5)
timeAxis.selectAll(".tick text").attr("font-size", 11).attr("font-family", "Liberation Sans")
  .attr("text-anchor", "start").attr("dx", 1).attr("fill", "#222")
timeAxis.selectAll(".tick line").attr("stroke", "#111").attr("shape-rendering", "crispEdges")

// scrollbar and sheet tabs under the chart
box(chart, 168, 742, 1599, 15, PANEL_BG)
box(chart, 1152, 742, 597, 15, "#cdcdcd")
chart.append("path").attr("d", "M178,746l-3,3l3,3M1756,746l3,3l-3,3").attr("fill", "none").attr("stroke", "#444").attr("stroke-width", 1.4)
box(svg, 0, 757, 1920, 21, "#e4e4e4")
vline(svg, 1767, 161, 757, "#a0a0a0")
vline(svg, 1768, 161, 757, "#a0a0a0")
const sheetNav = svg.append("g")
sheetNav.append("path").attr("d", "M176,762v9M182,762l-4,4.5l4,4.5zM199,762l-5,4.5l5,4.5zM214,762l5,4.5l-5,4.5zM231,762l5,4.5l-5,4.5zM238,762v9")
  .attr("fill", "#666").attr("stroke", "#666")
sheetNav.append("path").attr("d", "M246,757l6,20H330l6,-20").attr("fill", "#fff").attr("stroke", "#888")
txt(sheetNav, 258, 771, "CQG - MEW", {weight: "bold", size: 11.5, length: 65})
sheetNav.append("path").attr("d", "M333,777l6,-20H497l-6,20").attr("fill", "#d0d0d0").attr("stroke", "#888")
txt(sheetNav, 340, 771, "Paper Trader - CQG - White", {size: 11.5, length: 143})

// ---- chart trading panel on the right
const tradePanel = svg.append("g")
box(tradePanel, 1769, 161, 151, 596, PANEL_BG)
box(tradePanel, 1774.5, 173.5, 36, 24, "#e0e0e0", "#a8a8a8")
tradePanel.append("circle").attr("cx", 1787).attr("cy", 185).attr("r", 4.5).attr("fill", "#2eaa6b")
vline(tradePanel, 1799.5, 177, 194, "#111")
tradePanel.append("path").attr("d", "M1802,183h6l-3,3z").attr("fill", "#111")
combo(tradePanel, 1816, 173, 68, 24, "125408", {size: 11.5})
tradePanel.append("path").attr("d", "M1893,179l12,12M1905,179l-12,12").attr("stroke", "#666").attr("stroke-width", 1.4)
box(tradePanel, 1774.5, 205.5, 139, 23, "#e8e8e0", "#ddd")
box(tradePanel, 1848, 207, 64, 20, "#f8f8f8")
txt(tradePanel, 1808, 222, "Flat", {anchor: "middle", weight: "bold", size: 13.5, family: "Liberation Sans"})
txt(tradePanel, 1878, 222, "PnL", {anchor: "middle", weight: "bold", size: 13.5, family: "Liberation Sans"})
const BUY_FILL = "#aebcdb", SELL_FILL = "#e5a0a0"
const orderButtons = [
  [1774, 233, 66, 25, BUY_FILL, "Buy Mkt"], [1846, 233, 67, 25, SELL_FILL, "Sell Mkt"],
  [1774, 264, 66, 35, BUY_FILL, "Buy Ask @", "3,225.50"], [1846, 264, 67, 35, SELL_FILL, "Sell Bid @", "3,225.25"],
  [1774, 305, 66, 35, BUY_FILL, "Buy Bid @", "3,225.25"], [1846, 305, 67, 35, SELL_FILL, "Sell Ask @", "3,225.50"],
  [1774, 346, 66, 26, "#cfcfcf", "Cancel Bids"], [1846, 346, 67, 26, "#cfcfcf", "Cancel Asks"],
  [1774, 376, 66, 26, "#cfcfcf", "Close"], [1846, 376, 67, 26, "#cfcfcf", "Reverse"]
]
orderButtons.forEach(([bx, by, w, h, fill, label, price]) => {
  box(tradePanel, bx + 0.5, by + 0.5, w, h, fill, "#bcbcbc")
  const cx = bx + w / 2
  const faded = fill === "#cfcfcf"
  txt(tradePanel, cx, by + (price ? 14 : h / 2 + 4), label, {anchor: "middle", size: 11.5, fill: faded ? "#8e8e8e" : "#1a1a1a"})
  if (price) { txt(tradePanel, cx, by + 30, price, {anchor: "middle", size: 13.5, weight: "bold", family: "DejaVu Serif", length: 55}) }
})
box(tradePanel, 1774.5, 411.5, 66, 24, "#fff", "#8a8a8a")
txt(tradePanel, 1780, 427, "3", {size: 11.5})
icon(tradePanel, 1811, 424, "calc")
box(tradePanel, 1825.5, 414.5, 13, 9, "#eee", "#aaa"); box(tradePanel, 1825.5, 424.5, 13, 9, "#eee", "#aaa")
tradePanel.append("path").attr("d", "M1829,421l3,-3l3,3zM1829,427l3,3l3,-3z").attr("fill", "#222")
combo(tradePanel, 1846, 411, 67, 24, "DAY", {size: 11.5})

// the hand drawn circle marking the entry, clipped by the window edge
addClip("windowClip", 0, 0, 1920, 1040)
svg.append("ellipse")
  .attr("clip-path", "url(#windowClip)")
  .attr("cx", 1765).attr("cy", 321).attr("rx", 155).attr("ry", 69)
  .attr("fill", "none").attr("stroke", "#ffc90e").attr("stroke-width", 5)

// ---- order and position tracker
const tracker = svg.append("g")
box(tracker, 0, 778, 1920, 192, "#fff")
hline(tracker, 0, 1920, 778, "#a8a8a8", 2)
box(tracker, 0, 779, 21, 190, "#b7cfe6")
box(tracker, 0, 779, 21, 16, "#f0f0f0")
txt(tracker, 9, 792, "x", {anchor: "middle", weight: "bold", size: 11})
txt(tracker, 15, 963, "Order And Position Tracker", {fill: "#7f8f9f", size: 11.5, family: "Liberation Sans", length: 140}).attr("transform", "rotate(-90 15 963)")
box(tracker, 21, 785, 1899, 19, PANEL_BG)
const trackerTabs = [["Accounts", 26, 61], ["Orders", 87, 48], ["Open Positions", 135, 92], ["Strategy Positions", 227, 106], ["Positions History", 333, 103], ["Logs", 436, 46], ["Alerts", 482, 48], ["Trades Summary", 530, 97]]
trackerTabs.forEach(([label, tx, w]) => {
  const active = label === "Positions History"
  box(tracker, tx + 0.5, active ? 783.5 : 785.5, w, active ? 21 : 19, active ? "#fff" : "#f0f0f0", "#d0d0d0")
  txt(tracker, tx + w / 2, active ? 798 : 800, label, {anchor: "middle", size: 11.5})
})
hline(tracker, 21, 1920, 804.5, "#d8d8d8")
tracker.append("path").attr("d", "M1900,795l4,-5l4,5h-3v3h-2v-3z").attr("fill", "#2eaa6b")
txt(tracker, 44, 833, "Account:", {size: 11.5, length: 42})
combo(tracker, 90, 818, 169, 20, "CQG:125408", {size: 11.5})
txt(tracker, 303, 833, "Instrument:", {size: 11.5, length: 56})
combo(tracker, 366, 818, 109, 20, "All", {size: 11.5})
txt(tracker, 524, 833, "From:", {size: 11.5, length: 28})
box(tracker, 561.5, 818.5, 150, 20, "#fff", "#777")
txt(tracker, 563, 833, "25.07.2020 00:00:00", {size: 11.5, length: 103})
icon(tracker, 690, 828, "calc")
tracker.append("path").attr("d", "M698,825h7l-3.5,4z").attr("fill", "#4f70a8")
txt(tracker, 722, 833, "To:", {size: 11.5, length: 16})
box(tracker, 745.5, 818.5, 149, 20, "#fff", "#a8a8a8")
txt(tracker, 746, 833, "28.07.2020 07:15:34", {size: 11.5, fill: "#8a8a8a", length: 103})
icon(tracker, 873, 828, "calc")
tracker.append("path").attr("d", "M882,825h7l-3.5,4z").attr("fill", "#aaa")
box(tracker, 903.5, 818.5, 17, 20, "#fff", "#bbb")
tracker.append("path").attr("d", "M908,822h8M912,822v10M909,832h6").attr("stroke", "#555").attr("fill", "none")

const columnEdges = [30, 150, 250, 351, 451, 550, 650, 750, 850]
const headerCenters = [82, 192, 293, 392, 493, 592, 693, 793]
historyHeaders.forEach((label, i) => txt(tracker, headerCenters[i], 860, label, {anchor: "middle", size: 11.5}))
columnEdges.forEach(ex => vline(tracker, ex + 0.5, 846, 966, "#d8d8d8"))
addClip("rowsClip", 30, 865, 1870, 101)
addClip("timeClip", 32.5, 846, 117, 130)
const rows = tracker.append("g").attr("clip-path", "url(#rowsClip)")
historyPnl.forEach((pnl, i) => {
  const rowTop = 865 + i * 18
  const textY = rowTop + 14
  const fill = pnl < 0 ? "#ff0000" : "#3b9a3b"
  box(rows, 750.5, rowTop, 99.5, 17, fill)
  hline(rows, 30, 750, rowTop + 17.5, "#cfcfcf", 2)
  rows.append("g").attr("clip-path", "url(#timeClip)").append("text")
    .attr("x", 26).attr("y", textY).attr("fill", "#1a1a1a").attr("font-size", 12.5).text(historyTimes[i])
  txt(rows, 152.5, textY, "CQG", {size: 12.5})
  txt(rows, 252, textY, "125408", {size: 12.5})
  txt(rows, 399, textY, "MESU20", {anchor: "middle", size: 12.5})
  txt(rows, 500, textY, historyPositions[i], {anchor: "middle", size: 12.5})
  txt(rows, 599, textY, historyQuantities[i], {anchor: "middle", size: 12.5})
  txt(rows, 700, textY, historyPrices[i], {anchor: "middle", size: 12.5})
  txt(rows, 800, textY, `$ ${d3.format(".2f")(pnl)}`, {anchor: "middle", size: 12.5, fill: "#222"})
})
box(rows, 750.5, 937.5, 99, 16, "none", "#111").attr("stroke-width", 2)
box(tracker, 1903, 846, 16, 120, "#f0f0f0")
box(tracker, 1903, 862, 16, 17, "#cdcdcd")
tracker.append("path").attr("d", "M1907,856l4,-4l4,4M1907,955l4,4l4,-4").attr("fill", "none").attr("stroke", "#444").attr("stroke-width", 1.4)

// ---- drawing toolbar and status bar
const bottomBar = svg.append("g")
box(bottomBar, 0, 969, 1920, 43, "#fff")
hline(bottomBar, 0, 1920, 970, "#bdbdbd", 2)
hline(bottomBar, 0, 1920, 1012, "#d8d8d8", 2)
const drawingTools = [
  [23, "seg"], [55, "hseg"], [86, "vseg"], [117, "channel"], [148, "channel"], [180, "channel"], [211, "channel"], [243, "channel"], [281, "lines"],
  [312, "fan"], [343, "fan"], [373, "arcs"], [404, "bars3"], [436, "bars3"], [475, "fan"], [506, "grid"], [545, "calc"], [576, "textT"], [607, "rect"],
  [637, "circle"], [669, "curve"], [700, "arrowDown"], [730, "arrowUp"], [770, "magnet"], [800, "lock"], [1006, "clockDial"], [1031, "drop"],
  [1357, "histDoc"], [1400, "jump"], [1477, "playL"], [1504, "greyDrop"], [1529, "playR"], [1566, "playR"], [1589, "greyDrop"], [1613, "endR"], [1759, "copies"]
]
const barSeparators = [259, 453, 523, 748, 1189, 1377, 1454, 1631, 1740, 1854]
barSeparators.forEach(ex => vline(bottomBar, ex + 0.5, 975, 1008))
vline(bottomBar, 825, 972, 1011, "#aaa", "1,2")
vline(bottomBar, 1046, 972, 1011, "#aaa", "1,2")
box(bottomBar, 1861.5, 973.5, 30, 36, "#cce4ff", "#99d1ff")
drawingTools.forEach(([ix, kind]) => icon(bottomBar, ix, 992, kind))
icon(bottomBar, 1876, 992, "dotLine")
combo(bottomBar, 835, 980, 147, 22, "Type a symbol/interval", {fill: "#fff", stroke: "#888", size: 12, length: 118})
combo(bottomBar, 1057, 980, 129, 22, "As is (15 Minutes)", {size: 12, length: 93})
box(bottomBar, 1195.5, 981.5, 148, 21, "#fff", "#888")
icon(bottomBar, 1322, 991, "calc")
bottomBar.append("path").attr("d", "M1330,989h7l-3.5,4z").attr("fill", "#4f70a8")
txt(bottomBar, 1414, 996, "Jump", {size: 12})
box(bottomBar, 1643, 989, 88, 6, "#e2e2e2", "#ccc")
box(bottomBar, 1704, 984, 6, 16, "#0a78d7")
txt(bottomBar, 1776, 996, "Global Mode", {size: 12, fill: "#a8a8a8", length: 68})

box(bottomBar, 0, 1013, 1920, 27, PANEL_BG)
txt(bottomBar, 0, 1032, "Choose Playback Resolution", {size: 12})
const statusSeparators = [1647, 1730, 1813, 1871]
statusSeparators.forEach(ex => vline(bottomBar, ex + 0.5, 1015, 1038, "#d8d8d8"))
txt(bottomBar, 1818, 1032, "07:15:34", {size: 12})
box(bottomBar, 1884, 1019, 15, 15, "#3cb371")
</script>
</body>
</html>
